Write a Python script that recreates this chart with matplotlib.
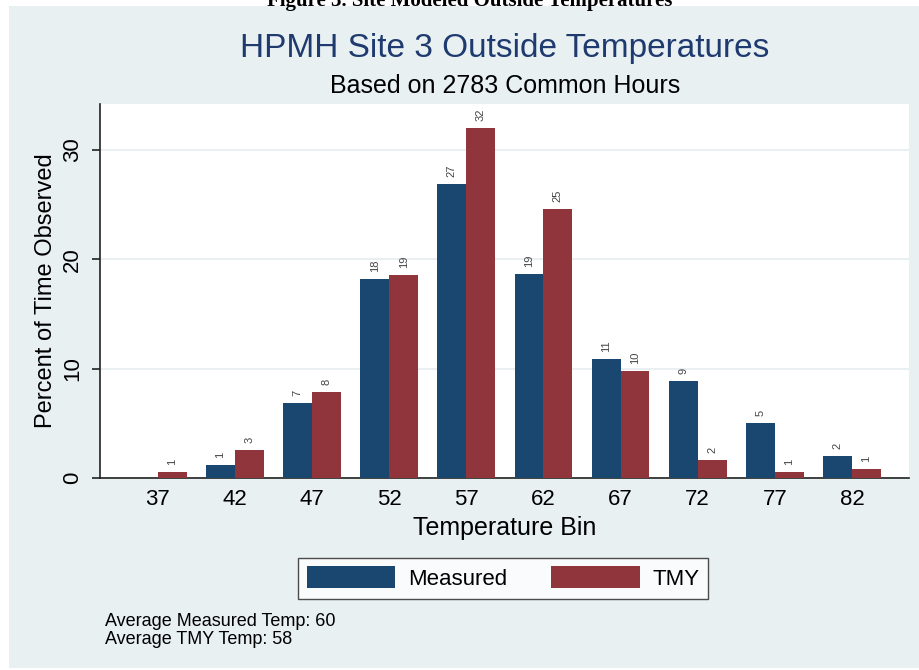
import matplotlib
matplotlib.use("Agg")
import matplotlib.pyplot as plt
import numpy as np
from matplotlib.patches import Rectangle, Patch

# --- datos ---
bins = ["37", "42", "47", "52", "57", "62", "67", "72", "77", "82"]
measured = [0.0, 1.2, 6.9, 18.2, 26.9, 18.7, 10.9, 8.9, 5.0, 2.0]
tmy = [0.55, 2.6, 7.9, 18.6, 32.0, 24.6, 9.8, 1.65, 0.55, 0.8]
avg_measured = 60
avg_tmy = 58
total_hours = 2783

c_meas = "#1a476f"
c_tmy = "#90353b"
bg = "#e8f0f2"

plt.rcParams["font.family"] = ["Liberation Sans", "DejaVu Sans"]

fig = plt.figure(figsize=(9.2, 6.7), dpi=100)
fig.patch.set_facecolor("white")
# fondo azul claro del grafico (estilo Stata)
fig.patches.append(Rectangle((9 / 920, 2 / 670), 911 / 920, 662 / 670,
                             transform=fig.transFigure, facecolor=bg,
                             edgecolor="none", zorder=-10))
# pie de figura cortado arriba
fig.text(0.51, 1 - 1 / 670, "Figure 3. Site Modeled Outside Temperatures",
         family="Liberation Serif", weight="bold", fontsize=15,
         ha="center", va="center", color="black")

ax = fig.add_axes([100 / 920, 192 / 670, 809 / 920, 374 / 670])
ax.set_facecolor("white")

x = np.arange(len(bins))
w = 0.375
b1 = ax.bar(x - w / 2, measured, w, color=c_meas, label="Measured", zorder=3)
b2 = ax.bar(x + w / 2, tmy, w, color=c_tmy, label="TMY", zorder=3)

for bars, vals in ((b1, measured), (b2, tmy)):
    for r, v in zip(bars, vals):
        if v <= 0:
            continue
        ax.annotate(f"{v:.0f}" if round(v) != 0 else "1",
                    (r.get_x() + r.get_width() / 2, v),
                    xytext=(0, 5), textcoords="offset points",
                    rotation=90, ha="center", va="bottom",
                    fontsize=8, color="#444444")

ax.set_xlim(-0.75, len(bins) - 0.26)
ax.set_ylim(0, 34.2)
ax.set_xticks(x)
ax.set_xticklabels(bins, fontsize=16)
ax.set_yticks([0, 10, 20, 30])
ax.set_yticklabels(["0", "10", "20", "30"], fontsize=16, rotation=90, va="center")
ax.tick_params(axis="x", length=0, pad=8)
ax.tick_params(axis="y", length=6, width=1.2, color="#222222", pad=6)
ax.grid(axis="y", color="#e6eef0", linewidth=1.2, zorder=0)
ax.spines["top"].set_visible(False)
ax.spines["right"].set_visible(False)
ax.spines["left"].set_color("#222222")
ax.spines["bottom"].set_color("#222222")
ax.spines["left"].set_linewidth(1.2)
ax.spines["bottom"].set_linewidth(1.2)

ax.set_xlabel("Temperature Bin", fontsize=18, labelpad=4)
ax.set_ylabel("Percent of Time Observed", fontsize=17, labelpad=4)

fig.text(505 / 920, 1 - 48 / 670, "HPMH Site 3 Outside Temperatures",
         fontsize=24, color="#1f3a6e", ha="center", va="center")
fig.text(505 / 920, 1 - 86 / 670, f"Based on {total_hours} Common Hours",
         fontsize=18, color="black", ha="center", va="center")

leg = fig.legend(handles=[Patch(facecolor=c_meas), Patch(facecolor=c_tmy)],
                 labels=["Measured", "TMY"], ncol=2,
                 loc="center", bbox_to_anchor=(503 / 920, 1 - 578 / 670),
                 fontsize=16, handlelength=4.0, handleheight=1.1,
                 columnspacing=2.0, handletextpad=0.55, borderpad=0.4,
                 frameon=True, fancybox=False, edgecolor="#222222")
leg.get_frame().set_linewidth(1.0)

fig.text(105 / 920, 1 - 621 / 670, f"Average Measured Temp: {avg_measured}",
         fontsize=13, ha="left", va="center")
fig.text(105 / 920, 1 - 640 / 670, f"Average TMY Temp: {avg_tmy}",
         fontsize=13, ha="left", va="center")

fig.savefig("out.png", dpi=100)
